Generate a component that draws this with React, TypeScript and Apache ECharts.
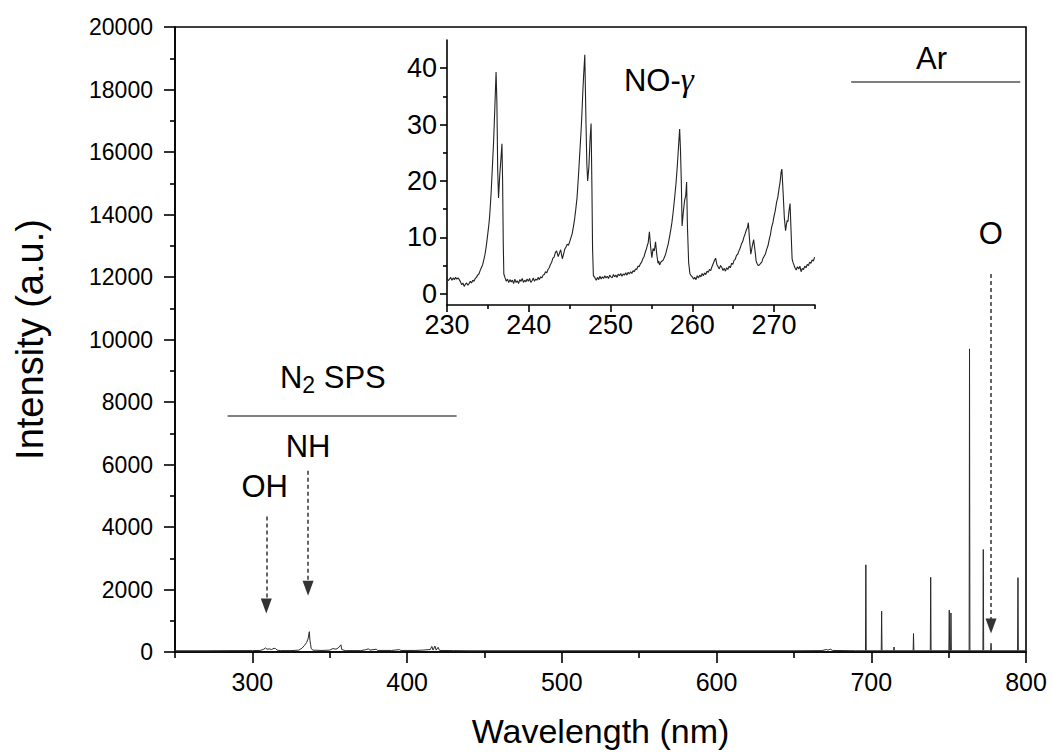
import React, { useEffect, useRef } from "react";
import * as echarts from "echarts";

const FONT = "'Liberation Sans', Arial, Helvetica, sans-serif";

// ---- Axis ticks ----
const mainXMajor = [300, 400, 500, 600, 700, 800];
const mainXMinor = [250, 350, 450, 550, 650, 750];
const insetXMajor = [230, 240, 250, 260, 270];
const insetXMinor = [235, 245, 255, 265, 275];
const insetYMajor = [0, 10, 20, 30, 40];
const insetYMinor = [5, 15, 25, 35];

// ---- Main spectrum: continuum/band region (wavelength nm, intensity a.u.) ----
const mainContinuum: [number, number][] = [
  [250, 40], [270, 40], [290, 45], [300, 45], [305, 50], [307, 80], [308.5, 130],
  [309.5, 90], [311, 100], [312.5, 80], [314, 120], [315, 110], [316, 60], [318, 45],
  [325, 45], [330, 60], [332, 120], [333.5, 200], [335, 300], [336, 420], [336.8, 650],
  [337.2, 380], [337.6, 250], [338, 120], [339, 60], [345, 50], [350, 60], [352, 110],
  [354, 90], [355.5, 130], [357.2, 230], [357.8, 80], [360, 45], [370, 45], [373, 70],
  [375, 100], [376, 60], [380, 90], [381, 50], [390, 50], [395, 75], [396, 50],
  [405, 50], [410, 60], [415, 80], [416, 180], [416.8, 60], [418, 190], [418.8, 60],
  [420, 150], [421, 50], [430, 45], [440, 40], [500, 40], [600, 40], [650, 40],
  [668, 45], [671, 80], [672, 60], [673.5, 90], [675, 50], [690, 40], [800, 40],
];

// ---- Atomic emission lines (Ar I, O I) ----
const lineWavelengths = [696.5, 706.7, 714.7, 727.3, 738.4, 750.4, 751.5, 763.5, 772.4, 777.4, 794.8];
const lineIntensities = [2790, 1310, 160, 590, 2390, 1340, 1250, 9700, 3280, 280, 2380];
const lineBase = 40;

// ---- Inset: NO-gamma band region ----
const insetSpectrum: [number, number][] = [
  [230.0, 2.8], [230.15, 2.3], [230.3, 2.6], [230.45, 2.9], [230.6, 2.4], [230.75, 2.8],
  [230.9, 2.5], [231.05, 2.9], [231.2, 2.6], [231.35, 2.8], [231.5, 2.5], [231.65, 2.1],
  [231.8, 1.6], [231.95, 1.9], [232.1, 1.3], [232.25, 1.7], [232.4, 1.9], [232.55, 1.5],
  [232.7, 1.8], [232.85, 2.2], [233.0, 1.9], [233.15, 2.4], [233.3, 2.2], [233.45, 2.7],
  [233.6, 2.9], [233.75, 3.3], [233.9, 3.5], [234.05, 4.1], [234.2, 4.6], [234.35, 5.1],
  [234.5, 6.0], [234.65, 7.0], [234.8, 8.4], [234.9, 9.6], [235.0, 10.8], [235.1, 12.0],
  [235.2, 13.5], [235.3, 15.6], [235.4, 18.0], [235.55, 22.5], [235.7, 27.0], [235.85, 33.0],
  [236.0, 39.3], [236.1, 34.0], [236.2, 22.0], [236.3, 17.0], [236.45, 21.0], [236.6, 24.0],
  [236.72, 26.6], [236.8, 20.0], [236.88, 9.0], [236.95, 3.5], [237.1, 2.8], [237.25, 2.2],
  [237.4, 2.6], [237.55, 2.0], [237.7, 2.5], [237.85, 2.1], [238.0, 2.4], [238.15, 1.8],
  [238.3, 2.6], [238.45, 2.0], [238.6, 2.3], [238.75, 1.8], [238.9, 2.5], [239.05, 2.2],
  [239.2, 2.7], [239.35, 2.0], [239.5, 2.4], [239.65, 2.1], [239.8, 2.6], [239.95, 2.2],
  [240.1, 2.7], [240.25, 2.0], [240.4, 2.3], [240.55, 2.8], [240.7, 2.2], [240.85, 2.6],
  [241.0, 2.4], [241.15, 2.9], [241.3, 2.5], [241.45, 3.0], [241.6, 2.8], [241.75, 3.3],
  [241.9, 3.4], [242.05, 3.9], [242.2, 3.7], [242.35, 4.3], [242.5, 4.6], [242.65, 5.2],
  [242.8, 5.6], [242.95, 6.3], [243.1, 6.5], [243.25, 7.3], [243.4, 7.6], [243.6, 6.6],
  [243.75, 7.2], [243.9, 7.8], [244.1, 6.2], [244.25, 7.0], [244.4, 7.9], [244.55, 8.3],
  [244.7, 8.8], [244.85, 8.6], [245.0, 9.2], [245.15, 9.9], [245.3, 10.6], [245.45, 11.8],
  [245.6, 13.2], [245.75, 15.0], [245.9, 17.0], [246.0, 19.2], [246.1, 21.5], [246.2, 24.0],
  [246.3, 26.5], [246.4, 29.0], [246.5, 32.0], [246.6, 35.5], [246.7, 38.5], [246.85, 42.4],
  [247.0, 30.0], [247.1, 23.0], [247.2, 20.0], [247.35, 22.5], [247.5, 27.5], [247.62, 30.2],
  [247.72, 19.0], [247.8, 8.0], [247.9, 3.2], [248.1, 2.8], [248.25, 2.4], [248.4, 2.9],
  [248.55, 2.5], [248.7, 3.1], [248.85, 2.6], [249.0, 3.0], [249.15, 2.7], [249.3, 3.2],
  [249.45, 2.8], [249.6, 3.1], [249.75, 2.7], [249.9, 3.3], [250.05, 3.0], [250.2, 2.8],
  [250.35, 3.4], [250.5, 3.0], [250.65, 3.3], [250.8, 2.9], [250.95, 3.5], [251.1, 3.2],
  [251.25, 3.6], [251.4, 3.1], [251.55, 3.5], [251.7, 3.3], [251.85, 3.7], [252.0, 3.3],
  [252.15, 3.8], [252.3, 3.5], [252.45, 3.9], [252.6, 3.6], [252.75, 4.1], [252.9, 3.9],
  [253.05, 4.4], [253.2, 4.3], [253.35, 4.9], [253.5, 4.8], [253.65, 5.3], [253.8, 5.6],
  [253.95, 6.2], [254.1, 6.6], [254.25, 7.4], [254.4, 8.0], [254.5, 8.6], [254.6, 9.0],
  [254.75, 11.0], [254.9, 8.3], [255.05, 6.4], [255.2, 8.0], [255.35, 7.6], [255.5, 9.2],
  [255.65, 7.0], [255.8, 5.4], [255.9, 5.8], [256.0, 5.1], [256.15, 5.6], [256.3, 5.8],
  [256.45, 6.0], [256.6, 6.5], [256.75, 7.1], [256.9, 8.0], [257.05, 8.8], [257.2, 10.0],
  [257.35, 11.2], [257.5, 12.6], [257.65, 14.4], [257.8, 16.5], [257.9, 18.0], [258.0, 19.5],
  [258.1, 21.4], [258.2, 23.5], [258.35, 27.0], [258.45, 29.2], [258.55, 25.5], [258.65, 20.0],
  [258.75, 12.0], [258.9, 14.5], [259.05, 16.5], [259.2, 17.5], [259.3, 19.8], [259.4, 12.0],
  [259.55, 5.5], [259.7, 3.6], [259.85, 3.2], [260.0, 3.0], [260.15, 2.6], [260.3, 2.9],
  [260.45, 2.5], [260.6, 3.2], [260.75, 2.8], [260.9, 3.3], [261.05, 3.0], [261.2, 3.6],
  [261.35, 3.2], [261.5, 3.7], [261.65, 3.4], [261.8, 4.0], [261.95, 3.8], [262.1, 4.3],
  [262.25, 4.1], [262.4, 4.8], [262.55, 5.3], [262.7, 5.9], [262.85, 6.3], [263.0, 5.2],
  [263.15, 4.8], [263.3, 4.4], [263.45, 5.0], [263.6, 4.7], [263.75, 4.1], [263.9, 4.5],
  [264.05, 4.0], [264.2, 4.6], [264.35, 4.3], [264.5, 4.9], [264.65, 4.6], [264.8, 5.4],
  [264.95, 5.2], [265.1, 5.9], [265.25, 6.1], [265.4, 6.8], [265.55, 7.0], [265.7, 7.6],
  [265.85, 8.1], [266.0, 8.8], [266.15, 9.2], [266.3, 10.0], [266.45, 10.6], [266.6, 11.3],
  [266.75, 11.8], [266.85, 12.6], [267.0, 9.5], [267.15, 7.0], [267.35, 8.6], [267.5, 9.6],
  [267.6, 8.4], [267.7, 7.2], [267.8, 5.8], [267.9, 5.4], [268.05, 5.0], [268.2, 5.1],
  [268.35, 5.4], [268.5, 5.6], [268.65, 6.3], [268.8, 6.7], [268.95, 7.1], [269.1, 7.9],
  [269.25, 8.5], [269.4, 9.6], [269.55, 10.5], [269.7, 11.8], [269.85, 12.6], [270.0, 13.8],
  [270.15, 14.8], [270.3, 16.2], [270.45, 17.1], [270.6, 18.6], [270.75, 20.0], [270.85, 21.5],
  [270.95, 22.1], [271.1, 18.0], [271.25, 13.5], [271.4, 11.2], [271.5, 12.2], [271.6, 13.0],
  [271.7, 12.8], [271.8, 14.5], [271.95, 16.0], [272.1, 10.0], [272.2, 6.2], [272.3, 5.6],
  [272.4, 5.2], [272.55, 4.6], [272.7, 4.2], [272.85, 4.8], [273.0, 4.4], [273.15, 4.9],
  [273.3, 3.9], [273.45, 4.5], [273.6, 4.3], [273.75, 4.9], [273.9, 4.6], [274.05, 5.2],
  [274.2, 5.0], [274.35, 5.6], [274.5, 5.4], [274.65, 6.0], [274.8, 5.8], [274.95, 6.5],
  [275.0, 6.6],
];

// ---- Annotations (data coordinates) ----
const bandBars = [
  { name: "N2 SPS", from: 284, to: 432, level: 7570 },
  { name: "Ar", from: 687, to: 796.3, level: 18250 },
];
const arrows = [
  { name: "OH", x: 309, from: 4340, to: 1470 },
  { name: "NH", x: 336, from: 5800, to: 2040 },
  { name: "O", x: 777.4, from: 12100, to: 830 },
];
const mainLabels = [
  { text: "{t|N}{s|2}{t| SPS}", x: 352, y: 8800 },
  { text: "{t|NH}", x: 336, y: 6570 },
  { text: "{t|OH}", x: 308, y: 5300 },
  { text: "{t|O}", x: 777.3, y: 13400 },
  { text: "{t|Ar}", x: 739, y: 19000 },
];
const insetLabel = { text: "{t|NO-}{g|γ}", x: 255.9, y: 37.9 };

function buildMainData(): [number, number][] {
  const pts: [number, number][] = mainContinuum.map((p) => [p[0], p[1]] as [number, number]);
  lineWavelengths.forEach((w, i) => {
    pts.push([w - 0.25, lineBase], [w, lineIntensities[i]], [w + 0.25, lineBase]);
  });
  pts.sort((a, b) => a[0] - b[0]);
  return pts;
}

const richText = {
  t: { fontSize: 31, fontFamily: FONT, color: "#000", lineHeight: 36 },
  s: { fontSize: 23, fontFamily: FONT, color: "#000", lineHeight: 36, padding: [16, 0, 0, 0] },
  g: { fontSize: 33, fontFamily: "'Liberation Serif', 'Times New Roman', serif", fontStyle: "italic", color: "#000", lineHeight: 36 },
};

export default function App() {
  const ref = useRef<HTMLDivElement>(null);
  useEffect(() => {
    document.body.style.margin = "0";
    if (!ref.current) return;
    const chart = echarts.init(ref.current, undefined, { renderer: "svg" });
    const axisLineStyle = { color: "#000", width: 1.6 };

    const markLineData: any[] = [];
    bandBars.forEach((b) => {
      markLineData.push([
        { coord: [b.from, b.level], symbol: "none", lineStyle: { type: "solid", color: "#555", width: 1.5 } },
        { coord: [b.to, b.level], symbol: "none" },
      ]);
    });
    arrows.forEach((a) => {
      markLineData.push([
        { coord: [a.x, a.from], symbol: "none", lineStyle: { type: [4, 3], color: "#333", width: 1.5 } },
        { coord: [a.x, a.to], symbol: "triangle", symbolSize: [11, 15] },
      ]);
    });

    const plainNumber = (v: number) => String(v);

    const option: any = {
      animation: false,
      backgroundColor: "#fff",
      grid: [
        { left: 175, right: 26, top: 27, bottom: 99, show: true, borderColor: "#000", borderWidth: 1.6, backgroundColor: "transparent" },
        { left: 447, right: 237, top: 40, bottom: 448, show: false },
      ],
      xAxis: [
        {
          gridIndex: 0, type: "value", min: 250, max: 800, position: "bottom",
          axisLine: { show: true, onZero: false, lineStyle: axisLineStyle },
          axisTick: { show: true, customValues: mainXMajor, length: 11, lineStyle: axisLineStyle },
          axisLabel: { customValues: mainXMajor, fontSize: 25, fontFamily: FONT, color: "#000", margin: 17, formatter: plainNumber },
          splitLine: { show: false },
          name: "Wavelength (nm)", nameLocation: "middle", nameGap: 62,
          nameTextStyle: { fontSize: 34, fontFamily: FONT, color: "#000" },
        },
        {
          gridIndex: 0, type: "value", min: 250, max: 800, position: "bottom",
          axisLine: { show: false, onZero: false },
          axisTick: { show: true, customValues: mainXMinor, length: 6, lineStyle: axisLineStyle },
          axisLabel: { show: false },
          splitLine: { show: false },
        },
        {
          gridIndex: 1, type: "value", min: 230, max: 275, position: "bottom",
          axisLine: { show: true, onZero: false, lineStyle: axisLineStyle },
          axisTick: { show: true, customValues: insetXMajor, length: 7, lineStyle: axisLineStyle },
          axisLabel: { customValues: insetXMajor, fontSize: 27, fontFamily: FONT, color: "#000", margin: 6, formatter: plainNumber },
          splitLine: { show: false },
        },
        {
          gridIndex: 1, type: "value", min: 230, max: 275, position: "bottom",
          axisLine: { show: false, onZero: false },
          axisTick: { show: true, customValues: insetXMinor, length: 4, lineStyle: axisLineStyle },
          axisLabel: { show: false },
          splitLine: { show: false },
        },
      ],
      yAxis: [
        {
          gridIndex: 0, type: "value", min: 0, max: 20000, interval: 2000, position: "left",
          axisLine: { show: true, onZero: false, lineStyle: axisLineStyle },
          axisTick: { show: true, length: 11, lineStyle: axisLineStyle },
          minorTick: { show: true, splitNumber: 2, length: 5, lineStyle: axisLineStyle },
          axisLabel: { fontSize: 23, fontFamily: FONT, color: "#000", margin: 22, formatter: plainNumber },
          splitLine: { show: false },
          minorSplitLine: { show: false },
          name: "Intensity (a.u.)", nameLocation: "middle", nameGap: 126,
          nameTextStyle: { fontSize: 38, fontFamily: FONT, color: "#000" },
        },
        {
          gridIndex: 1, type: "value", min: -2, max: 45, position: "left",
          axisLine: { show: true, onZero: false, lineStyle: axisLineStyle },
          axisTick: { show: true, customValues: insetYMajor, length: 7, lineStyle: axisLineStyle },
          axisLabel: { customValues: insetYMajor, fontSize: 27, fontFamily: FONT, color: "#000", margin: 10, formatter: plainNumber },
          splitLine: { show: false },
        },
        {
          gridIndex: 1, type: "value", min: -2, max: 45, position: "left",
          axisLine: { show: false, onZero: false },
          axisTick: { show: true, customValues: insetYMinor, length: 4, lineStyle: axisLineStyle },
          axisLabel: { show: false },
          splitLine: { show: false },
        },
      ],
      series: [
        {
          type: "line", xAxisIndex: 0, yAxisIndex: 0, data: buildMainData(),
          showSymbol: false, symbol: "none",
          lineStyle: { color: "#2a2a2a", width: 1 },
          silent: true,
          markLine: { silent: true, animation: false, label: { show: false }, emphasis: { disabled: true }, data: markLineData },
          markPoint: {
            silent: true, animation: false, symbol: "circle", symbolSize: 1,
            itemStyle: { color: "transparent" },
            data: mainLabels.map((l) => ({
              coord: [l.x, l.y], value: 0,
              label: { show: true, position: "inside", formatter: l.text, rich: richText },
            })),
          },
        },
        {
          type: "line", xAxisIndex: 2, yAxisIndex: 1, data: insetSpectrum,
          showSymbol: false, symbol: "none",
          lineStyle: { color: "#222", width: 1.1 },
          silent: true,
          markPoint: {
            silent: true, animation: false, symbol: "circle", symbolSize: 1,
            itemStyle: { color: "transparent" },
            data: [{ coord: [insetLabel.x, insetLabel.y], value: 0,
              label: { show: true, position: "inside", formatter: insetLabel.text, rich: richText } }],
          },
        },
      ],
    };
    chart.setOption(option);
    return () => chart.dispose();
  }, []);
  return (
    <div
      ref={ref}
      style={{ position: "fixed", left: 0, top: 0, width: 1052, height: 753, background: "#fff" }}
    />
  );
}
